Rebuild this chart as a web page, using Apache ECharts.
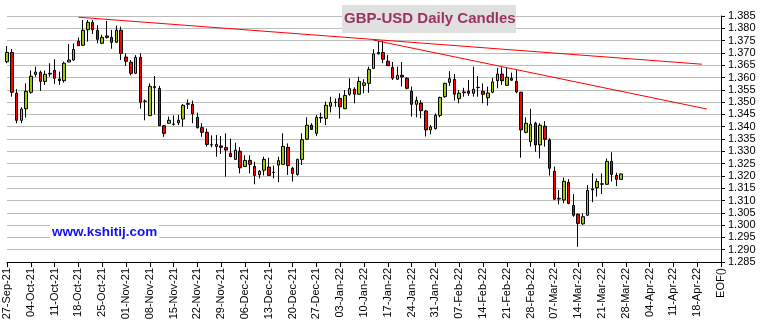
<!DOCTYPE html>
<html>
<head>
<meta charset="utf-8">
<script src="https://cdn.jsdelivr.net/npm/echarts@6/dist/echarts.min.js"></script>
<style>
  html, body { margin: 0; padding: 0; background: #ffffff; }
  #chart { width: 760px; height: 326px; }
</style>
</head>
<body>
<div id="chart"></div>
<script>
// Week-start labels along the date axis (5 trading days per week), then the end marker
const weekLabels = [
  '27-Sep-21', '04-Oct-21', '11-Oct-21', '18-Oct-21', '25-Oct-21', '01-Nov-21',
  '08-Nov-21', '15-Nov-21', '22-Nov-21', '29-Nov-21', '06-Dec-21', '13-Dec-21',
  '20-Dec-21', '27-Dec-21', '03-Jan-22', '10-Jan-22', '17-Jan-22', '24-Jan-22',
  '31-Jan-22', '07-Feb-22', '14-Feb-22', '21-Feb-22', '28-Feb-22', '07-Mar-22',
  '14-Mar-22', '21-Mar-22', '28-Mar-22', '04-Apr-22', '11-Apr-22', '18-Apr-22'
];
const endLabel = 'EOF()';

// GBP-USD daily OHLC, one entry per trading day from 27-Sep-21
const opens = [
  1.3664, 1.3702, 1.3536, 1.3426, 1.3473, 1.3540, 1.3613, 1.3621, 1.3584, 1.3614,
  1.3629, 1.3594, 1.3587, 1.3663, 1.3671, 1.3747, 1.3731, 1.3794, 1.3824, 1.3792,
  1.3739, 1.3769, 1.3763, 1.3743, 1.3792, 1.3683, 1.3662, 1.3617, 1.3682, 1.3503,
  1.3445, 1.3563, 1.3555, 1.3404, 1.3414, 1.3410, 1.3416, 1.3431, 1.3491, 1.3491,
  1.3438, 1.3396, 1.3377, 1.3326, 1.3320, 1.3322, 1.3315, 1.3292, 1.3267, 1.3300,
  1.3238, 1.3263, 1.3239, 1.3205, 1.3223, 1.3236, 1.3214, 1.3244, 1.3247, 1.3316,
  1.3231, 1.3206, 1.3267, 1.3349, 1.3406, 1.3373, 1.3435, 1.3434, 1.3483, 1.3498,
  1.3515, 1.3473, 1.3532, 1.3552, 1.3532, 1.3568, 1.3576, 1.3637, 1.3696, 1.3702,
  1.3666, 1.3641, 1.3593, 1.3609, 1.3597, 1.3544, 1.3491, 1.3496, 1.3464, 1.3387,
  1.3392, 1.3446, 1.3522, 1.3580, 1.3592, 1.3514, 1.3538, 1.3544, 1.3536, 1.3559,
  1.3544, 1.3518, 1.3540, 1.3587, 1.3614, 1.3568, 1.3597, 1.3584, 1.3540, 1.3377,
  1.3339, 1.3414, 1.3326, 1.3402, 1.3346, 1.3219, 1.3106, 1.3102, 1.3174, 1.3080,
  1.3044, 1.3005, 1.3040, 1.3144, 1.3152, 1.3166, 1.3166, 1.3259, 1.3202, 1.3186
];
const closes = [
  1.3702, 1.3540, 1.3426, 1.3472, 1.3544, 1.3605, 1.3622, 1.3584, 1.3613, 1.3617,
  1.3597, 1.3587, 1.3658, 1.3671, 1.3714, 1.3729, 1.3792, 1.3824, 1.3794, 1.3755,
  1.3763, 1.3763, 1.3743, 1.3792, 1.3698, 1.3666, 1.3617, 1.3682, 1.3499, 1.3504,
  1.3564, 1.3559, 1.3404, 1.3373, 1.3426, 1.3411, 1.3426, 1.3487, 1.3494, 1.3453,
  1.3396, 1.3377, 1.3328, 1.3327, 1.3328, 1.3316, 1.3305, 1.3278, 1.3305, 1.3233,
  1.3263, 1.3247, 1.3202, 1.3219, 1.3267, 1.3202, 1.3215, 1.3262, 1.3320, 1.3242,
  1.3210, 1.3267, 1.3347, 1.3406, 1.3389, 1.3438, 1.3438, 1.3487, 1.3499, 1.3499,
  1.3481, 1.3527, 1.3555, 1.3532, 1.3584, 1.3578, 1.3633, 1.3696, 1.3702, 1.3674,
  1.3648, 1.3597, 1.3609, 1.3602, 1.3556, 1.3491, 1.3507, 1.3465, 1.3387, 1.3399,
  1.3446, 1.3519, 1.3576, 1.3595, 1.3532, 1.3536, 1.3541, 1.3536, 1.3552, 1.3560,
  1.3532, 1.3537, 1.3582, 1.3614, 1.3587, 1.3601, 1.3589, 1.3541, 1.3387, 1.3414,
  1.3410, 1.3326, 1.3406, 1.3349, 1.3231, 1.3105, 1.3109, 1.3178, 1.3088, 1.3040,
  1.3007, 1.3034, 1.3141, 1.3147, 1.3177, 1.3168, 1.3259, 1.3206, 1.3186, 1.3208
];
const lows = [
  1.3658, 1.3522, 1.3414, 1.3414, 1.3437, 1.3534, 1.3603, 1.3546, 1.3570, 1.3603,
  1.3574, 1.3570, 1.3579, 1.3662, 1.3668, 1.3728, 1.3728, 1.3746, 1.3777, 1.3739,
  1.3738, 1.3758, 1.3717, 1.3742, 1.3671, 1.3647, 1.3609, 1.3614, 1.3473, 1.3426,
  1.3444, 1.3450, 1.3403, 1.3359, 1.3412, 1.3404, 1.3407, 1.3400, 1.3472, 1.3414,
  1.3393, 1.3359, 1.3319, 1.3316, 1.3278, 1.3289, 1.3197, 1.3277, 1.3265, 1.3210,
  1.3236, 1.3210, 1.3166, 1.3190, 1.3202, 1.3200, 1.3190, 1.3174, 1.3246, 1.3204,
  1.3177, 1.3201, 1.3244, 1.3346, 1.3387, 1.3362, 1.3416, 1.3407, 1.3458, 1.3481,
  1.3433, 1.3472, 1.3526, 1.3495, 1.3530, 1.3536, 1.3538, 1.3635, 1.3694, 1.3658,
  1.3647, 1.3590, 1.3590, 1.3563, 1.3552, 1.3441, 1.3438, 1.3434, 1.3360, 1.3369,
  1.3389, 1.3438, 1.3518, 1.3566, 1.3506, 1.3495, 1.3522, 1.3525, 1.3522, 1.3522,
  1.3495, 1.3486, 1.3536, 1.3556, 1.3570, 1.3566, 1.3587, 1.3536, 1.3274, 1.3373,
  1.3319, 1.3298, 1.3271, 1.3319, 1.3201, 1.3102, 1.3084, 1.3089, 1.3085, 1.3034,
  1.2912, 1.3001, 1.3037, 1.3093, 1.3116, 1.3126, 1.3163, 1.3177, 1.3159, 1.3185
];
const highs = [
  1.3728, 1.3716, 1.3553, 1.3479, 1.3576, 1.3629, 1.3644, 1.3628, 1.3628, 1.3658,
  1.3674, 1.3624, 1.3664, 1.3736, 1.3739, 1.3763, 1.3834, 1.3834, 1.3834, 1.3813,
  1.3774, 1.3830, 1.3793, 1.3811, 1.3807, 1.3698, 1.3671, 1.3691, 1.3698, 1.3511,
  1.3576, 1.3606, 1.3566, 1.3407, 1.3441, 1.3446, 1.3448, 1.3492, 1.3511, 1.3506,
  1.3457, 1.3414, 1.3393, 1.3365, 1.3366, 1.3362, 1.3373, 1.3351, 1.3335, 1.3317,
  1.3284, 1.3284, 1.3258, 1.3224, 1.3278, 1.3274, 1.3242, 1.3278, 1.3373, 1.3332,
  1.3237, 1.3270, 1.3373, 1.3438, 1.3414, 1.3448, 1.3457, 1.3502, 1.3522, 1.3515,
  1.3536, 1.3549, 1.3597, 1.3560, 1.3603, 1.3593, 1.3644, 1.3715, 1.3748, 1.3748,
  1.3692, 1.3663, 1.3644, 1.3663, 1.3601, 1.3563, 1.3522, 1.3508, 1.3468, 1.3407,
  1.3454, 1.3522, 1.3579, 1.3626, 1.3614, 1.3549, 1.3558, 1.3590, 1.3644, 1.3606,
  1.3576, 1.3563, 1.3599, 1.3639, 1.3641, 1.3639, 1.3620, 1.3630, 1.3542, 1.3438,
  1.3473, 1.3420, 1.3414, 1.3423, 1.3353, 1.3238, 1.3143, 1.3193, 1.3187, 1.3126,
  1.3048, 1.3048, 1.3163, 1.3210, 1.3190, 1.3210, 1.3271, 1.3296, 1.3213, 1.3210
];

// Resistance lines: [day index, price] end points
const upperTrend = [[15, 1.3845], [146, 1.3654]];
const lowerTrend = [[77, 1.3752], [147, 1.3472]];

// Daily categories: the week label on Mondays, unique keys on the other days
const days = [];
weekLabels.forEach(function (w) {
  for (let d = 0; d < 5; d++) days.push(d === 0 ? w : w + ' +' + d);
});
days.push(endLabel);

const candles = opens.map(function (o, i) {
  return [o, closes[i], lows[i], highs[i]];
});

const showWeek = function (i) { return i % 5 === 0; };

const chart = echarts.init(document.getElementById('chart'), null, { renderer: 'canvas' });
chart.setOption({
  animation: false,
  backgroundColor: '#ffffff',
  grid: { left: 7, right: 39, top: 16, bottom: 64, containLabel: false },
  xAxis: {
    type: 'category',
    data: days,
    boundaryGap: false,
    axisLine: { lineStyle: { color: '#000000', width: 1 } },
    axisTick: { show: true, interval: showWeek, length: 5, lineStyle: { color: '#000000' } },
    axisLabel: {
      interval: showWeek,
      rotate: 90,
      margin: 6,
      color: '#000000',
      fontFamily: 'Liberation Sans, Arial, sans-serif',
      fontSize: 11
    },
    splitLine: { show: false }
  },
  yAxis: {
    type: 'value',
    position: 'right',
    min: 1.285,
    max: 1.385,
    interval: 0.005,
    scale: true,
    axisLine: { show: true, lineStyle: { color: '#000000', width: 1 } },
    axisTick: { show: true, length: 4, lineStyle: { color: '#000000' } },
    axisLabel: {
      margin: 7,
      color: '#000000',
      fontFamily: 'Liberation Sans, Arial, sans-serif',
      fontSize: 11,
      formatter: function (v) { return v.toFixed(3); }
    },
    splitLine: { show: true, lineStyle: { color: '#bdbdbd', width: 1 } }
  },
  series: [
    {
      type: 'candlestick',
      data: candles,
      barWidth: 3,
      clip: false,
      itemStyle: {
        color: '#99cc00',
        color0: '#ff0000',
        borderColor: '#000000',
        borderColor0: '#000000',
        borderWidth: 1
      }
    },
    {
      type: 'line',
      data: upperTrend,
      symbol: 'none',
      silent: true,
      lineStyle: { color: '#ff0000', width: 1 },
      z: 3
    },
    {
      type: 'line',
      data: lowerTrend,
      symbol: 'none',
      silent: true,
      lineStyle: { color: '#ff0000', width: 1 },
      z: 3
    }
  ],
  graphic: [
    {
      type: 'rect',
      left: 342,
      top: 5,
      shape: { width: 174, height: 28 },
      style: { fill: '#e0e0e0' },
      z: 10
    },
    {
      type: 'text',
      left: 344,
      top: 11,
      style: {
        text: 'GBP-USD Daily Candles',
        fill: '#993366',
        font: 'bold 15px "Liberation Sans", Arial, sans-serif'
      },
      z: 11
    },
    {
      type: 'rect',
      left: 50,
      top: 224,
      shape: { width: 109, height: 15 },
      style: { fill: '#ffffff' },
      z: 10
    },
    {
      type: 'text',
      left: 52,
      top: 225,
      style: {
        text: 'www.kshitij.com',
        fill: '#1010ff',
        font: 'bold 13.5px "Liberation Sans", Arial, sans-serif'
      },
      z: 11
    }
  ]
});
</script>
</body>
</html>
